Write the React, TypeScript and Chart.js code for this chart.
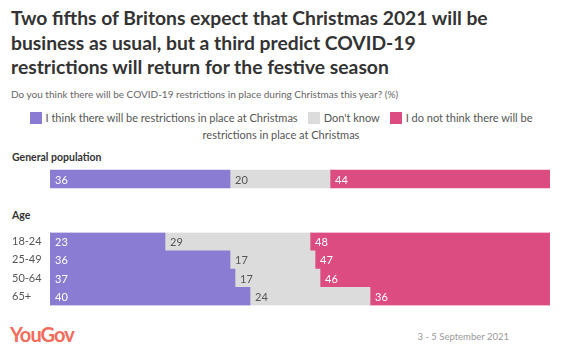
import React, { useEffect, useRef } from "react";
import { Chart, registerables } from "chart.js";

Chart.register(...registerables);

const seriesNames = [
  "I think there will be restrictions in place at Christmas",
  "Don't know",
  "I do not think there will be restrictions in place at Christmas",
];
const seriesColors = ["#8a7bd3", "#dcdcdc", "#dc4c80"];
const labelColors = ["#ffffff", "#555555", "#ffffff"];

const generalCategories = ["General population"];
const generalThink = [36];
const generalDontKnow = [20];
const generalNotThink = [44];

const ageCategories = ["18-24", "25-49", "50-64", "65+"];
const ageThink = [23, 36, 37, 40];
const ageDontKnow = [29, 17, 17, 24];
const ageNotThink = [48, 47, 46, 36];

const FONT = "Lato, 'Open Sans', sans-serif";

const valueLabelPlugin = {
  id: "valueLabels",
  afterDatasetsDraw(chart: any) {
    const ctx = chart.ctx;
    ctx.save();
    ctx.font = `11px ${FONT}`;
    ctx.textBaseline = "middle";
    ctx.textAlign = "left";
    chart.data.datasets.forEach((ds: any, di: number) => {
      const meta = chart.getDatasetMeta(di);
      meta.data.forEach((bar: any, i: number) => {
        const left = Math.min(bar.x, bar.base);
        ctx.fillStyle = labelColors[di];
        ctx.fillText(String(ds.data[i]), left + 5, bar.y + 1);
      });
    });
    ctx.restore();
  },
};

function makeChart(
  canvas: HTMLCanvasElement,
  labels: string[],
  think: number[],
  dk: number[],
  not: number[],
  showLabels: boolean
) {
  const sets = [think, dk, not];
  return new Chart(canvas, {
    type: "bar",
    data: {
      labels,
      datasets: sets.map((d, i) => ({
        label: seriesNames[i],
        data: d,
        backgroundColor: seriesColors[i],
        borderWidth: 0,
        barThickness: 18,
      })),
    },
    options: {
      indexAxis: "y",
      animation: false,
      responsive: false,
      maintainAspectRatio: false,
      layout: { padding: { left: 12, right: 16, top: 0, bottom: 0 } },
      plugins: { legend: { display: false }, tooltip: { enabled: false }, title: { display: false } },
      scales: {
        x: { stacked: true, min: 0, max: 100, display: false },
        y: {
          stacked: true,
          grid: { display: false },
          border: { display: false },
          afterFit: (scale: any) => {
            scale.width = 38;
          },
          ticks: {
            display: showLabels,
            crossAlign: "far",
            padding: 0,
            color: "#555555",
            font: { family: FONT, size: 11 },
          },
        },
      },
    },
    plugins: [valueLabelPlugin],
  } as any);
}

export default function App() {
  const refA = useRef<HTMLCanvasElement>(null);
  const refB = useRef<HTMLCanvasElement>(null);

  useEffect(() => {
    const a = makeChart(refA.current!, generalCategories, generalThink, generalDontKnow, generalNotThink, false);
    const b = makeChart(refB.current!, ageCategories, ageThink, ageDontKnow, ageNotThink, true);
    return () => {
      a.destroy();
      b.destroy();
    };
  }, []);

  const sq = (c: string) => (
    <span
      style={{
        display: "inline-block",
        width: 12,
        height: 12,
        background: c,
        verticalAlign: "-2px",
        marginRight: 4,
      }}
    />
  );

  return (
    <div
      style={{
        position: "fixed",
        left: 0,
        top: 0,
        width: 566,
        height: 356,
        background: "#fff",
        fontFamily: FONT,
        overflow: "hidden",
      }}
    >
      <div
        style={{
          position: "absolute",
          left: 11,
          top: 6,
          width: 550,
          fontSize: 19.3,
          lineHeight: "24.5px",
          fontWeight: 700,
          color: "#333333",
        }}
      >
        Two fifths of Britons expect that Christmas 2021 will be
        <br />
        business as usual, but a third predict COVID-19
        <br />
        restrictions will return for the festive season
      </div>
      <div style={{ position: "absolute", left: 11, top: 88, fontSize: 10, color: "#666666" }}>
        Do you think there will be COVID-19 restrictions in place during Christmas this year? (%)
      </div>
      <div
        style={{
          position: "absolute",
          left: 0,
          top: 109,
          width: 562,
          textAlign: "center",
          fontSize: 11,
          lineHeight: "17px",
          color: "#555555",
          whiteSpace: "nowrap",
        }}
      >
        {sq(seriesColors[0])}
        {seriesNames[0]}
        <span style={{ display: "inline-block", width: 10 }} />
        {sq(seriesColors[1])}
        {seriesNames[1]}
        <span style={{ display: "inline-block", width: 10 }} />
        {sq(seriesColors[2])}
        I do not think there will be
        <br />
        restrictions in place at Christmas
      </div>
      <div
        style={{ position: "absolute", left: 12, top: 151, fontSize: 10.5, fontWeight: 700, color: "#333333" }}
      >
        General population
      </div>
      <div
        style={{ position: "absolute", left: 12, top: 209, fontSize: 10.5, fontWeight: 700, color: "#333333" }}
      >
        Age
      </div>
      <canvas ref={refA} width={566} height={22} style={{ position: "absolute", left: 0, top: 168 }} />
      <canvas ref={refB} width={566} height={86} style={{ position: "absolute", left: 0, top: 226 }} />
      <div
        style={{
          position: "absolute",
          left: 10,
          top: 322,
          fontSize: 20,
          fontWeight: 700,
          color: "#f26b5b",
          letterSpacing: -0.9,
        }}
      >
        YouGov
      </div>
      <div
        style={{
          position: "absolute",
          right: 57,
          top: 331,
          fontSize: 9.5,
          color: "#999999",
        }}
      >
        3 - 5 September 2021
      </div>
    </div>
  );
}
